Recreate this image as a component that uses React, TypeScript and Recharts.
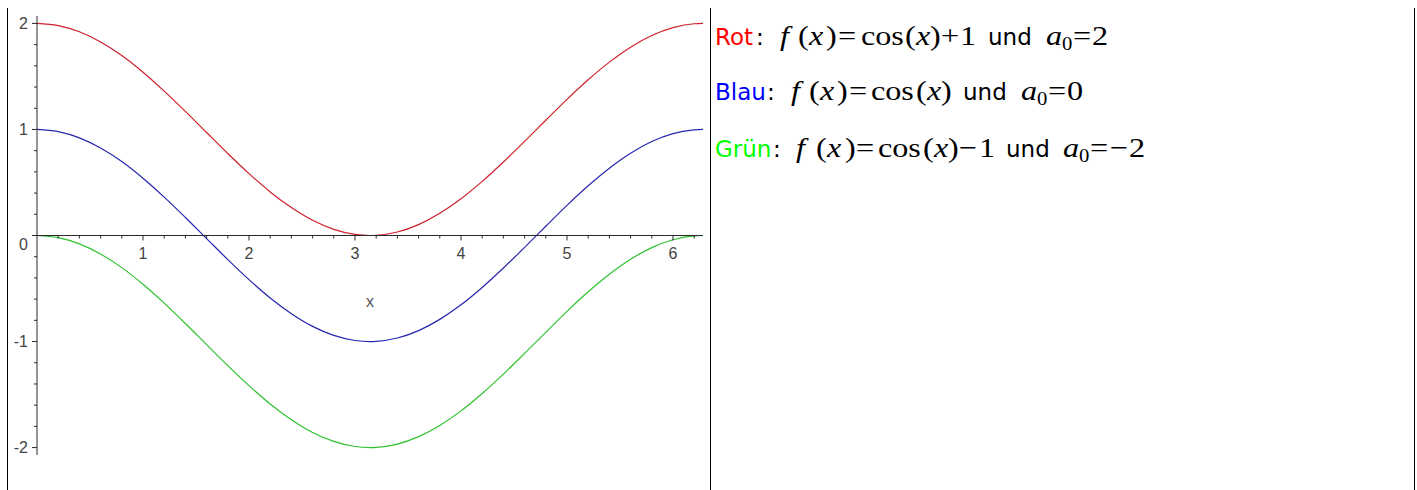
import React from 'react';
import { LineChart, Line, XAxis, YAxis, ReferenceLine, ReferenceDot } from 'recharts';

// Sample positions along x (0 … 2π)
const xValues = [
  0, 0.2, 0.4, 0.6, 0.8, 1.0, 1.2, 1.4, 1.6, 1.8, 2.0, 2.2, 2.4, 2.6, 2.8, 3.0,
  3.1416, 3.2, 3.4, 3.6, 3.8, 4.0, 4.2, 4.4, 4.6, 4.8, 5.0, 5.2, 5.4, 5.6, 5.8, 6.0, 6.2, 6.2832,
];

// Rot: f(x) = cos(x) + 1
const redValues = [
  2, 1.98, 1.921, 1.825, 1.697, 1.54, 1.362, 1.17, 0.971, 0.773, 0.584, 0.411, 0.263, 0.143, 0.058, 0.01,
  0, 0.002, 0.033, 0.103, 0.209, 0.346, 0.51, 0.693, 0.888, 1.087, 1.284, 1.469, 1.635, 1.776, 1.886, 1.96, 1.997, 2,
];

// Blau: f(x) = cos(x)
const blueValues = [
  1, 0.98, 0.921, 0.825, 0.697, 0.54, 0.362, 0.17, -0.029, -0.227, -0.416, -0.589, -0.737, -0.857, -0.942, -0.99,
  -1, -0.998, -0.967, -0.897, -0.791, -0.654, -0.49, -0.307, -0.112, 0.087, 0.284, 0.469, 0.635, 0.776, 0.886, 0.96, 0.997, 1,
];

// Grün: f(x) = cos(x) - 1
const greenValues = [
  0, -0.02, -0.079, -0.175, -0.303, -0.46, -0.638, -0.83, -1.029, -1.227, -1.416, -1.589, -1.737, -1.857, -1.942, -1.99,
  -2, -1.998, -1.967, -1.897, -1.791, -1.654, -1.49, -1.307, -1.112, -0.913, -0.716, -0.531, -0.365, -0.224, -0.114, -0.04, -0.003, 0,
];

const xMajorTicks = [1, 2, 3, 4, 5, 6];
const xMinorTicks = [
  0.2, 0.4, 0.6, 0.8, 1.2, 1.4, 1.6, 1.8, 2.2, 2.4, 2.6, 2.8, 3.2, 3.4, 3.6, 3.8,
  4.2, 4.4, 4.6, 4.8, 5.2, 5.4, 5.6, 5.8, 6.2,
];
const yTicks = [
  -2, -1.8, -1.6, -1.4, -1.2, -1, -0.8, -0.6, -0.4, -0.2, 0, 0.2, 0.4, 0.6, 0.8, 1, 1.2, 1.4, 1.6, 1.8, 2,
];
const yDomain = [-2.07, 2.07];
const xDomain = [0, 6.2832];

const rows = xValues.map((x, i) => ({
  x,
  rot: redValues[i],
  blau: blueValues[i],
  gruen: greenValues[i],
}));

const AXIS = '#2a2a2a';
const TICK_TEXT = '#444';
const TICK_FONT = '"Liberation Sans", Arial, sans-serif';

function isMajor(v: number) {
  return Math.abs(v - Math.round(v)) < 1e-6;
}

function YTick(props: any) {
  const { x, y, payload } = props;
  const v = payload.value as number;
  const major = isMajor(v);
  return (
    <g>
      <line x1={x - (major ? 5 : 3)} x2={x} y1={y} y2={y} stroke={AXIS} strokeWidth={1} />
      {major && (
        <text
          x={x - 9}
          y={y + (v === 0 ? 9 : 0)}
          dy="0.36em"
          textAnchor="end"
          fill={TICK_TEXT}
          fontSize={16}
          fontFamily={TICK_FONT}
        >
          {String(Math.round(v))}
        </text>
      )}
    </g>
  );
}

function XMinorMark(props: any) {
  const { cx, cy } = props;
  return <line x1={cx} x2={cx} y1={cy} y2={cy + 3} stroke={AXIS} strokeWidth={1} />;
}

function makeXMajorMark(label: string) {
  return (props: any) => {
    const { cx, cy } = props;
    return (
      <g>
        <line x1={cx} x2={cx} y1={cy} y2={cy + 5} stroke={AXIS} strokeWidth={1} />
        <text
          x={cx}
          y={cy + 23}
          textAnchor="middle"
          fill={TICK_TEXT}
          fontSize={16}
          fontFamily={TICK_FONT}
        >
          {label}
        </text>
      </g>
    );
  };
}

const SANS = '"DejaVu Sans", Verdana, sans-serif';
const SERIF = '"Liberation Serif", "Times New Roman", serif';

// A formula piece: text, its left position, and how it is set
type Piece = { t: string; at: number; font: 'sans' | 'serif'; italic?: boolean; color?: string; sub?: boolean };

function Formula({ y, pieces }: { y: number; pieces: Piece[] }) {
  return (
    <g>
      {pieces.map((p, i) => {
        const serif = p.font === 'serif';
        const baseY = y + (p.sub ? 5 : 0);
        return (
          <text
            key={i}
            x={0}
            y={0}
            transform={`translate(${p.at},${baseY})${serif ? ' scale(1.15,1)' : ''}`}
            fill={p.color ?? '#000'}
            fontFamily={serif ? SERIF : SANS}
            fontStyle={p.italic ? 'italic' : 'normal'}
            fontSize={p.sub ? 18 : serif ? 28 : 23}
          >
            {p.t}
          </text>
        );
      })}
    </g>
  );
}

const line1: Piece[] = [
  { t: 'Rot', at: 715, font: 'sans', color: '#ff0000' },
  { t: ':', at: 756, font: 'sans' },
  { t: 'f', at: 780, font: 'serif', italic: true },
  { t: '(', at: 798, font: 'serif' },
  { t: 'x', at: 809, font: 'serif', italic: true },
  { t: ')', at: 826, font: 'serif' },
  { t: '=', at: 838, font: 'serif' },
  { t: 'cos', at: 861, font: 'serif' },
  { t: '(', at: 905, font: 'serif' },
  { t: 'x', at: 916, font: 'serif', italic: true },
  { t: ')', at: 930, font: 'serif' },
  { t: '+', at: 941, font: 'serif' },
  { t: '1', at: 960, font: 'serif' },
  { t: 'und', at: 988, font: 'sans' },
  { t: 'a', at: 1046, font: 'serif', italic: true },
  { t: '0', at: 1062, font: 'serif', sub: true },
  { t: '=', at: 1073, font: 'serif' },
  { t: '2', at: 1092, font: 'serif' },
];

const line2: Piece[] = [
  { t: 'Blau', at: 715, font: 'sans', color: '#0000ff' },
  { t: ':', at: 767, font: 'sans' },
  { t: 'f', at: 791, font: 'serif', italic: true },
  { t: '(', at: 809, font: 'serif' },
  { t: 'x', at: 820, font: 'serif', italic: true },
  { t: ')', at: 837, font: 'serif' },
  { t: '=', at: 849, font: 'serif' },
  { t: 'cos', at: 871, font: 'serif' },
  { t: '(', at: 916, font: 'serif' },
  { t: 'x', at: 927, font: 'serif', italic: true },
  { t: ')', at: 941, font: 'serif' },
  { t: 'und', at: 963, font: 'sans' },
  { t: 'a', at: 1021, font: 'serif', italic: true },
  { t: '0', at: 1037, font: 'serif', sub: true },
  { t: '=', at: 1048, font: 'serif' },
  { t: '0', at: 1067, font: 'serif' },
];

const line3: Piece[] = [
  { t: 'Grün', at: 715, font: 'sans', color: '#00ff00' },
  { t: ':', at: 773, font: 'sans' },
  { t: 'f', at: 796, font: 'serif', italic: true },
  { t: '(', at: 816, font: 'serif' },
  { t: 'x', at: 827, font: 'serif', italic: true },
  { t: ')', at: 845, font: 'serif' },
  { t: '=', at: 856, font: 'serif' },
  { t: 'cos', at: 878, font: 'serif' },
  { t: '(', at: 923, font: 'serif' },
  { t: 'x', at: 934, font: 'serif', italic: true },
  { t: ')', at: 948, font: 'serif' },
  { t: '\u2212', at: 959, font: 'serif' },
  { t: '1', at: 979, font: 'serif' },
  { t: 'und', at: 1006, font: 'sans' },
  { t: 'a', at: 1063, font: 'serif', italic: true },
  { t: '0', at: 1079, font: 'serif', sub: true },
  { t: '=', at: 1090, font: 'serif' },
  { t: '\u2212', at: 1110, font: 'serif' },
  { t: '2', at: 1129, font: 'serif' },
];

const vRule = (left: number): React.CSSProperties => ({
  position: 'absolute',
  left,
  top: 8,
  width: 1,
  height: 482,
  background: '#000',
});

export default function App() {
  return (
    <div style={{ position: 'absolute', left: 0, top: 0, width: 1417, height: 490, background: '#fff', overflow: 'hidden' }}>
      <div style={{ position: 'absolute', left: 0, top: 0 }}>
        <LineChart
          width={710}
          height={490}
          data={rows}
          margin={{ top: 16, right: 7, bottom: 35, left: 0 }}
        >
          <XAxis dataKey="x" type="number" domain={xDomain} hide />
          <YAxis
            type="number"
            domain={yDomain}
            ticks={yTicks}
            width={37}
            axisLine={{ stroke: AXIS, strokeWidth: 1 }}
            tickLine={false}
            tickSize={0}
            tickMargin={0}
            tick={<YTick />}
            interval={0}
          />
          <Line dataKey="rot" type="monotone" stroke="#d0202e" strokeWidth={1.2} dot={false} isAnimationActive={false} />
          <Line dataKey="blau" type="monotone" stroke="#2626b0" strokeWidth={1.2} dot={false} isAnimationActive={false} />
          <Line dataKey="gruen" type="monotone" stroke="#2ec22e" strokeWidth={1.2} dot={false} isAnimationActive={false} />
          <ReferenceLine
            y={0}
            stroke={AXIS}
            strokeWidth={1}
            label={{ value: 'x', position: 'bottom', offset: 60, fill: '#555', fontSize: 16, fontFamily: TICK_FONT }}
          />
          {xMinorTicks.map((t) => (
            <ReferenceDot key={`m${t}`} x={t} y={0} r={0} shape={XMinorMark} />
          ))}
          {xMajorTicks.map((t) => (
            <ReferenceDot key={`M${t}`} x={t} y={0} r={0} shape={makeXMajorMark(String(t))} />
          ))}
        </LineChart>
      </div>
      <svg width={1417} height={490} style={{ position: 'absolute', left: 0, top: 0, pointerEvents: 'none' }}>
        <Formula y={45} pieces={line1} />
        <Formula y={100} pieces={line2} />
        <Formula y={157} pieces={line3} />
      </svg>
      <div style={vRule(7)} />
      <div style={vRule(710)} />
      <div style={vRule(1414)} />
    </div>
  );
}
